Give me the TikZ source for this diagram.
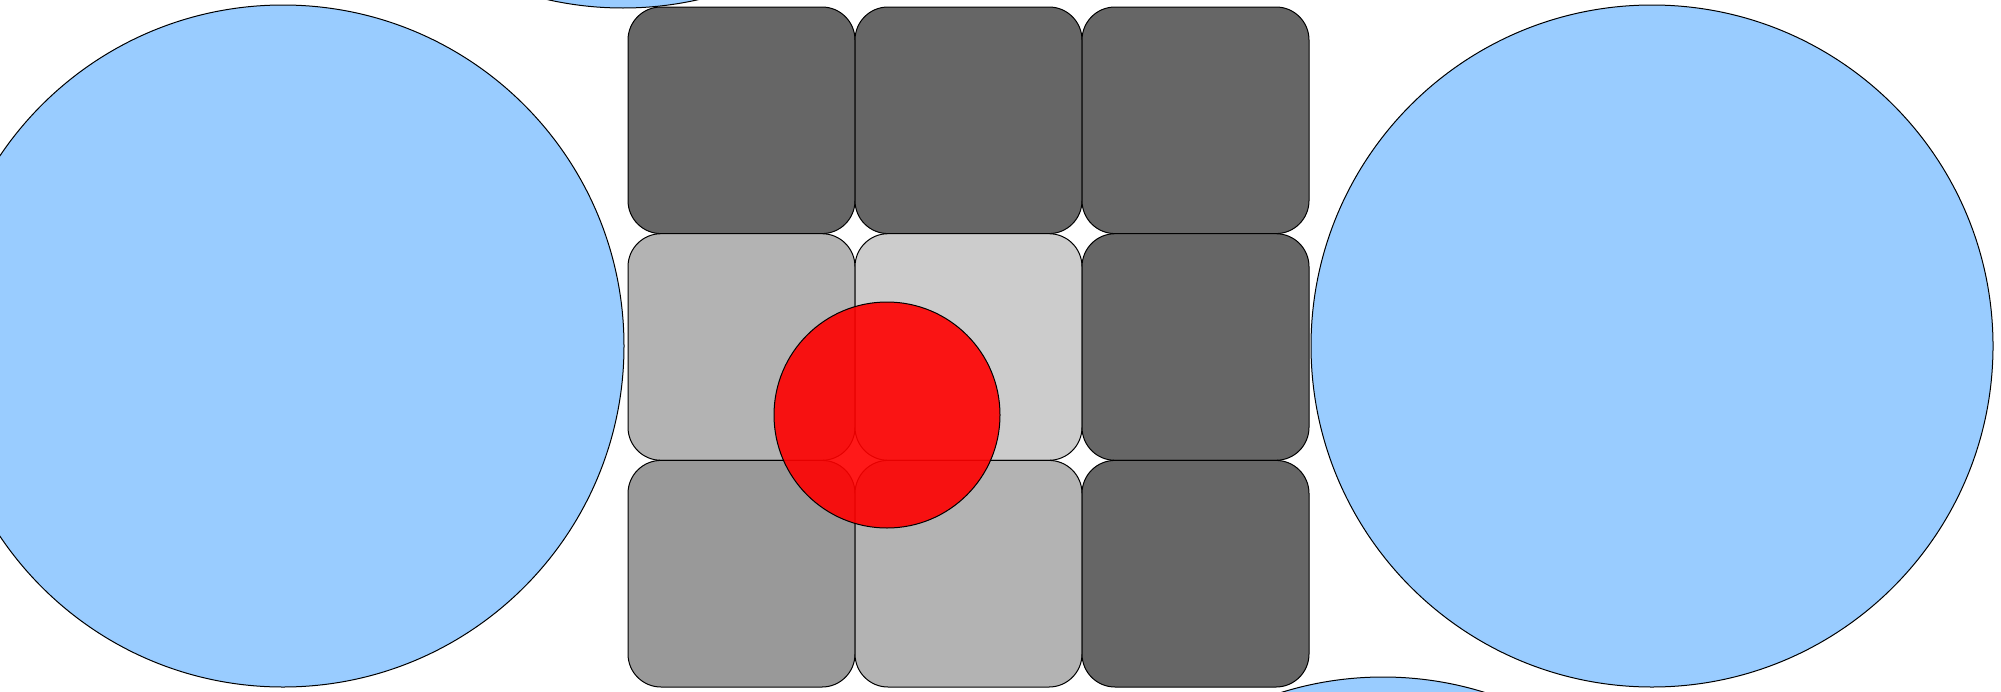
\documentclass[tikz,border=0pt]{standalone}
\definecolor{skyblue}{HTML}{99CCFF}
\definecolor{celldark}{HTML}{666666}
\definecolor{cellmid}{HTML}{999999}
\definecolor{celllight}{HTML}{B3B3B3}
\definecolor{cellpale}{HTML}{CCCCCC}
\tikzset{
  blob/.style={circle, draw=black, fill=skyblue, line width=0.5pt, minimum size=341pt, inner sep=0pt},
  cell/.style={rectangle, draw=black, line width=0.5pt, rounded corners=16.5pt, minimum width=113.5pt, minimum height=113.3pt, inner sep=0pt},
  reddot/.style={circle, draw=black, line width=0.5pt, fill=red, fill opacity=0.9, minimum size=113pt, inner sep=0pt}
}
\begin{document}
\begin{tikzpicture}[x=0.5pt,y=-0.5pt]
\useasboundingbox (0,0) rectangle (2001,691);
\clip (0,0) rectangle (2001,691);
% blue circles
\node[blob] (leftblob) at (283,346) {};
\node[blob] (rightblob) at (1652,346) {};
\node[blob] (topblob) at (623,-333) {};
\node[blob] (bottomblob) at (1383,1018) {};
% grid of cells
\node[cell, fill=celldark]  (c11) at (741.5,120.3) {};
\node[cell, fill=celldark]  (c12) at (968.5,120.3) {};
\node[cell, fill=celldark]  (c13) at (1195.5,120.3) {};
\node[cell, fill=celllight] (c21) at (741.5,347) {};
\node[cell, fill=cellpale]  (c22) at (968.5,347) {};
\node[cell, fill=celldark]  (c23) at (1195.5,347) {};
\node[cell, fill=cellmid]   (c31) at (741.5,573.7) {};
\node[cell, fill=celllight] (c32) at (968.5,573.7) {};
\node[cell, fill=celldark]  (c33) at (1195.5,573.7) {};
% red circle
\node[reddot] (redspot) at (887,415) {};
\end{tikzpicture}
\end{document}
